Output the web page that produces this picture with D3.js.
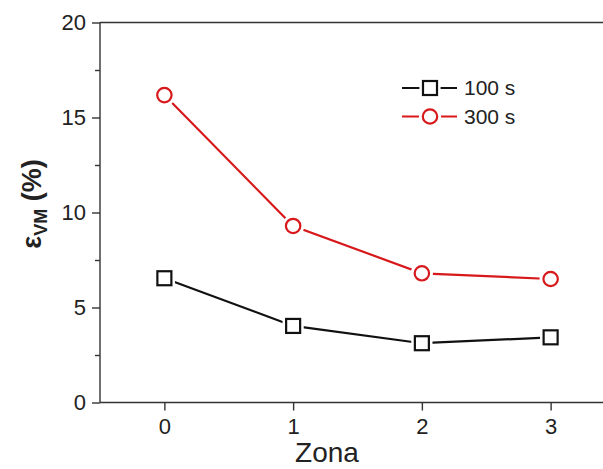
<!DOCTYPE html>
<html>
<head>
<meta charset="utf-8">
<script src="https://cdn.jsdelivr.net/npm/d3@7"></script>
<style>
  body { margin: 0; background: #fff; }
  svg { display: block; font-family: Arial, "Liberation Sans", sans-serif; }
</style>
</head>
<body>
<svg id="chart" width="603" height="469"></svg>
<script>
const zones = [0, 1, 2, 3];
const xTicks = [0, 1, 2, 3];
const yTicks = [0, 5, 10, 15, 20];
const yMinor = [2.5, 7.5, 12.5, 17.5];
const s100 = [6.54, 4.03, 3.12, 3.43];
const s300 = [16.18, 9.29, 6.8, 6.5];

const series = [
  { name: "100 s", values: s100, color: "#111", shape: "square" },
  { name: "300 s", values: s300, color: "#d7191c", shape: "circle" }
];

const svg = d3.select("#chart");
const axisColor = "#333";

const x = d3.scaleLinear().domain([-0.5, 3.5]).range([100, 615]);
const y = d3.scaleLinear().domain([0, 20]).range([402.5, 22.5]);

// frame: top line and axes
svg.append("line")
  .attr("x1", x(-0.5)).attr("x2", 603)
  .attr("y1", y(20)).attr("y2", y(20))
  .attr("stroke", axisColor).attr("stroke-width", 1.4);

const gx = svg.append("g")
  .attr("transform", `translate(0,${y(0)})`)
  .call(d3.axisBottom(x).tickValues(xTicks).tickSize(8).tickPadding(8).tickFormat(d3.format("d")));
gx.select(".domain").attr("d", `M${x(-0.5)},0H603`);

const gy = svg.append("g")
  .attr("transform", `translate(${x(-0.5)},0)`)
  .call(d3.axisLeft(y).tickValues(yTicks).tickSize(8).tickPadding(6).tickFormat(d3.format("d")));
gy.select(".domain").attr("d", `M0,${y(0)}V${y(20)}`);

svg.append("g")
  .attr("transform", `translate(${x(-0.5)},0)`)
  .call(d3.axisLeft(y).tickValues(yMinor).tickSize(5).tickFormat(""))
  .select(".domain").remove();

svg.selectAll(".domain, .tick line")
  .attr("stroke", axisColor).attr("stroke-width", 1.4);
svg.selectAll(".tick text")
  .attr("font-size", 22).attr("fill", "#222")
  .attr("font-family", "Arial, 'Liberation Sans', sans-serif");

// axis titles
svg.append("text")
  .attr("x", 327).attr("y", 462)
  .attr("text-anchor", "middle")
  .attr("font-size", 28).attr("fill", "#222")
  .text("Zona");

const yl = svg.append("text")
  .attr("transform", "translate(41,204) rotate(-90)")
  .attr("text-anchor", "middle")
  .attr("font-size", 27).attr("font-weight", "bold").attr("fill", "#222");
yl.append("tspan").text("ε");
yl.append("tspan").attr("font-size", 18).attr("dy", 6).text("VM");
yl.append("tspan").attr("dy", -6).text(" (%)");

// series
const line = d3.line().x((d, i) => x(zones[i])).y(d => y(d));

function marker(g, shape, cx, cy, color, halo) {
  if (shape === "circle") {
    g.append("circle").attr("cx", cx).attr("cy", cy).attr("r", halo ? 10 : 7.2)
      .attr("fill", "#fff").attr("stroke", halo ? "#fff" : color).attr("stroke-width", 2.2);
  } else {
    const s = halo ? 19 : 14;
    g.append("rect").attr("x", cx - s / 2).attr("y", cy - s / 2).attr("width", s).attr("height", s)
      .attr("fill", "#fff").attr("stroke", halo ? "#fff" : color).attr("stroke-width", 2.2);
  }
}

series.forEach(s => {
  const g = svg.append("g");
  g.append("path").datum(s.values)
    .attr("d", line).attr("fill", "none")
    .attr("stroke", s.color).attr("stroke-width", 2.2);
  s.values.forEach((v, i) => marker(g, s.shape, x(zones[i]), y(v), s.color, true));
  s.values.forEach((v, i) => marker(g, s.shape, x(zones[i]), y(v), s.color, false));
});

// legend
const legend = svg.append("g");
series.forEach((s, i) => {
  const ly = 88 + i * 28.5;
  legend.append("line").attr("x1", 402).attr("x2", 457).attr("y1", ly).attr("y2", ly)
    .attr("stroke", s.color).attr("stroke-width", 2.2);
  marker(legend, s.shape, 430, ly, s.color, true);
  marker(legend, s.shape, 430, ly, s.color, false);
  legend.append("text").attr("x", 464).attr("y", ly + 7)
    .attr("font-size", 21).attr("fill", "#222").text(s.name);
});
</script>
</body>
</html>
